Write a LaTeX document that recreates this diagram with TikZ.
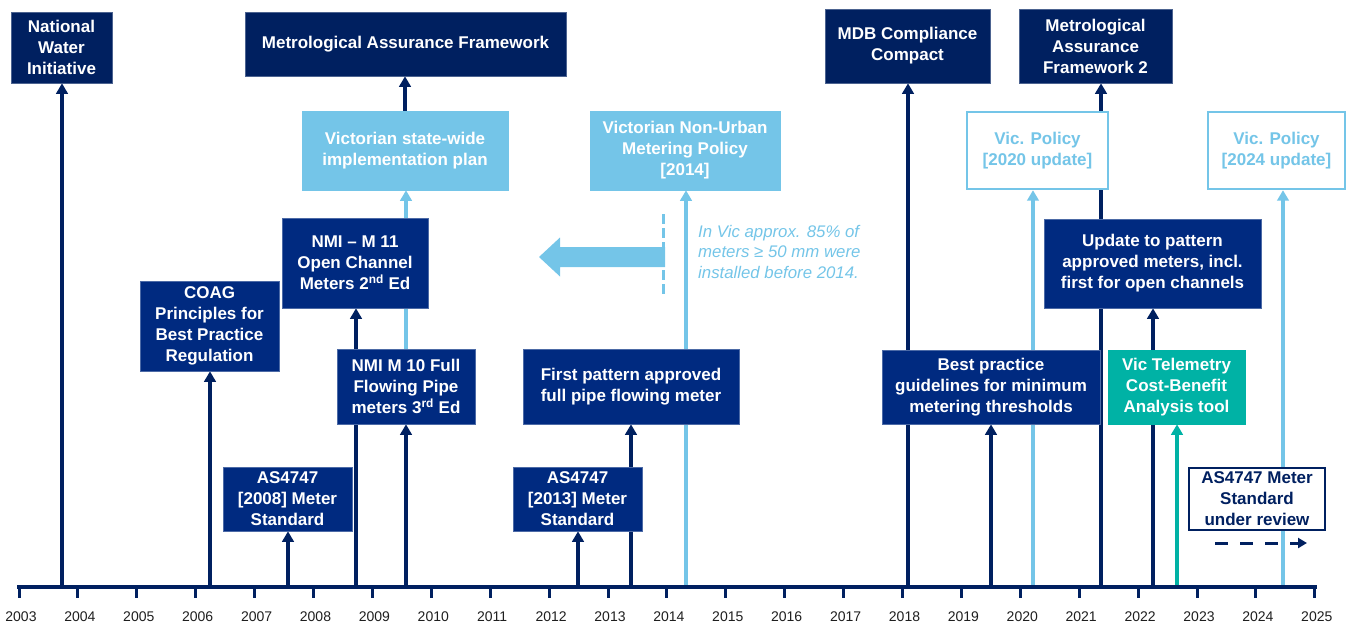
\documentclass[tikz,border=0pt]{standalone}
\usepackage{fontspec}
\setmainfont{Liberation Sans}
\usetikzlibrary{arrows.meta,backgrounds}
\definecolor{navy}{RGB}{0,32,96}
\definecolor{navyb}{RGB}{0,42,128}
\definecolor{lblue}{RGB}{116,197,232}
\definecolor{tealb}{RGB}{0,178,165}
\definecolor{yeartxt}{RGB}{30,30,30}
\begin{document}
\begin{tikzpicture}[x=1pt,y=-1pt,
  boxfont/.style={font=\bfseries\fontsize{17}{21}\selectfont},
  basebox/.style={boxfont, align=center, inner sep=0pt, line width=0.6pt},
  topbox/.style={basebox, fill=navy, draw=navy!70!white, text=white},
  lowbox/.style={basebox, fill=navyb, draw=navyb!70!white, text=white},
  lightbox/.style={basebox, fill=lblue, draw=lblue, text=white},
  linebox/.style={basebox, fill=white, draw=lblue, line width=2.4pt, text=lblue},
  tealbox/.style={basebox, fill=tealb, draw=tealb, text=white},
  revbox/.style={basebox, fill=white, draw=navy, line width=2pt, text=navy},
  darr/.style={navy, line width=3.2pt, -{Triangle[width=11.5pt,length=10.5pt]}},
  larr/.style={lblue, line width=3.2pt, -{Triangle[width=11.5pt,length=10.5pt]}},
  tarr/.style={tealb, line width=3.2pt, -{Triangle[width=11.5pt,length=10.5pt]}},
  yearlab/.style={font=\fontsize{14}{16}\selectfont, text=yeartxt, inner sep=0pt, anchor=base},
  notetext/.style={font=\itshape\fontsize{16.8}{20.5}\selectfont, text=lblue, align=left, inner sep=0pt},
]
\useasboundingbox (0,0) rectangle (1349,623);

% axis
\coordinate (axl) at (17,587);
\coordinate (axr) at (1317,587);
\draw[navy, line width=3.5pt] (axl) -- (axr);
\foreach \i in {0,...,22}{
  \pgfmathsetmacro\xx{19+\i*58.9}
  \pgfmathtruncatemacro\yr{2003+\i}
  \draw[navy, line width=3pt] (\xx,587) -- (\xx,598);
  \node[yearlab] (yr\i) at (\xx+2,621.5) {\yr};
}

% anchor points on the axis
\coordinate (p1) at (62,587);
\coordinate (p2) at (210,587);
\coordinate (p3) at (288,587);
\coordinate (p4) at (356,587);
\coordinate (p5) at (406,587);
\coordinate (p6) at (578,587);
\coordinate (p7) at (631,587);
\coordinate (p8) at (686,587);
\coordinate (p9) at (908,587);
\coordinate (p10) at (991,587);
\coordinate (p11) at (1033,587);
\coordinate (p12) at (1101,587);
\coordinate (p13) at (1153,587);
\coordinate (p14) at (1177,587);
\coordinate (p15) at (1283,587);

% boxes
\path
 (61.5,47.5) node[topbox, minimum width=101pt, minimum height=71pt] (nwi) {National\\Water\\Initiative}
 (405.5,44) node[topbox, minimum width=321pt, minimum height=64pt] (maf) {Metrological Assurance Framework}
 (405,150.5) node[lightbox, minimum width=206pt, minimum height=79pt] (vsw) {Victorian state-wide\\implementation plan}
 (685,150.5) node[lightbox, minimum width=190pt, minimum height=79pt] (vnu) {Victorian Non-Urban\\Metering Policy\\{}[2014]}
 (907.5,46) node[topbox, minimum width=165pt, minimum height=74pt] (mdb) {MDB Compliance\\Compact}
 (1095.5,46) node[topbox, minimum width=153pt, minimum height=74pt] (maf2) {Metrological\\Assurance\\Framework 2}
 (1037.5,150.5) node[linebox, minimum width=141pt, minimum height=77pt] (vp20) {Vic. Policy\\{}[2020 update]}
 (1276.5,150.5) node[linebox, minimum width=137pt, minimum height=77pt] (vp24) {Vic. Policy\\{}[2024 update]}
 (209.5,326) node[lowbox, minimum width=139pt, minimum height=90pt] (coag) {COAG\\Principles for\\Best Practice\\Regulation}
 (355,263) node[lowbox, minimum width=146pt, minimum height=90pt] (m11) {NMI – M 11\\Open Channel\\Meters 2\textsuperscript{nd} Ed}
 (406,386.5) node[lowbox, minimum width=138pt, minimum height=75pt] (m10) {NMI M 10 Full\\Flowing Pipe\\meters 3\textsuperscript{rd} Ed}
 (631,386.5) node[lowbox, minimum width=216pt, minimum height=75pt] (fp) {First pattern approved\\full pipe flowing meter}
 (287.5,499) node[lowbox, minimum width=129pt, minimum height=64pt] (as08) {AS4747\\{}[2008] Meter\\Standard}
 (577.5,499) node[lowbox, minimum width=129pt, minimum height=64pt] (as13) {AS4747\\{}[2013] Meter\\Standard}
 (991,387) node[lowbox, minimum width=218pt, minimum height=74pt] (bp) {Best practice\\guidelines for minimum\\metering thresholds}
 (1152.5,263.5) node[lowbox, minimum width=217pt, minimum height=89pt] (upd) {Update to pattern\\approved meters, incl.\\first for open channels}
 (1176.5,387) node[tealbox, minimum width=137pt, minimum height=74pt] (tel) {Vic Telemetry\\Cost-Benefit\\Analysis tool}
 (1257,499) node[revbox, minimum width=136pt, minimum height=62pt] (rev) {AS4747 Meter\\Standard\\under review};

% connectors behind the boxes
\begin{scope}[on background layer]
  \draw[darr] (p1) -- (p1 |- nwi.south);
  \draw[darr] (p2) -- (p2 |- coag.south);
  \draw[darr] (p3) -- (p3 |- as08.south);
  \draw[darr] (p4) -- (p4 |- m11.south);
  \draw[darr] (p5) -- (p5 |- m10.south);
  \draw[larr] (p5 |- m10.north) -- (p5 |- vsw.south);
  \draw[darr] (vsw.north) -- (maf.south -| vsw.north);
  \draw[darr] (p6) -- (p6 |- as13.south);
  \draw[darr] (p7) -- (p7 |- fp.south);
  \draw[larr] (p8) -- (p8 |- vnu.south);
  \draw[darr] (p9) -- (p9 |- mdb.south);
  \draw[darr] (p10) -- (p10 |- bp.south);
  \draw[larr] (p11) -- (p11 |- vp20.south);
  \draw[darr] (p12) -- (p12 |- maf2.south);
  \draw[darr] (p13) -- (p13 |- upd.south);
  \draw[tarr] (p14) -- (p14 |- tel.south);
  \draw[larr] (p15) -- (p15 |- vp24.south);
\end{scope}

% 2014 marker: dashed line and big left arrow
\coordinate (dtop) at (663,214);
\coordinate (dbot) at (663,295);
\fill[lblue] (665,247) -- (560,247) -- (560,237.5) -- (539,257) -- (560,276.5) -- (560,267) -- (665,267) -- cycle;
\draw[lblue, line width=3pt, dash pattern=on 10pt off 4pt] (dtop) -- (dbot);
\node[notetext, anchor=north west] (note) at (698,225) {In Vic approx. 85\% of\\meters ≥ 50 mm were\\installed before 2014.};

% dashed arrow under the review box
\coordinate (ra) at (1215,543);
\coordinate (rb) at (1307,543);
\draw[navy, line width=3pt, dash pattern=on 13pt off 12pt, -{Triangle[width=10pt,length=9pt]}] (ra) -- (rb);
\end{tikzpicture}
\end{document}
